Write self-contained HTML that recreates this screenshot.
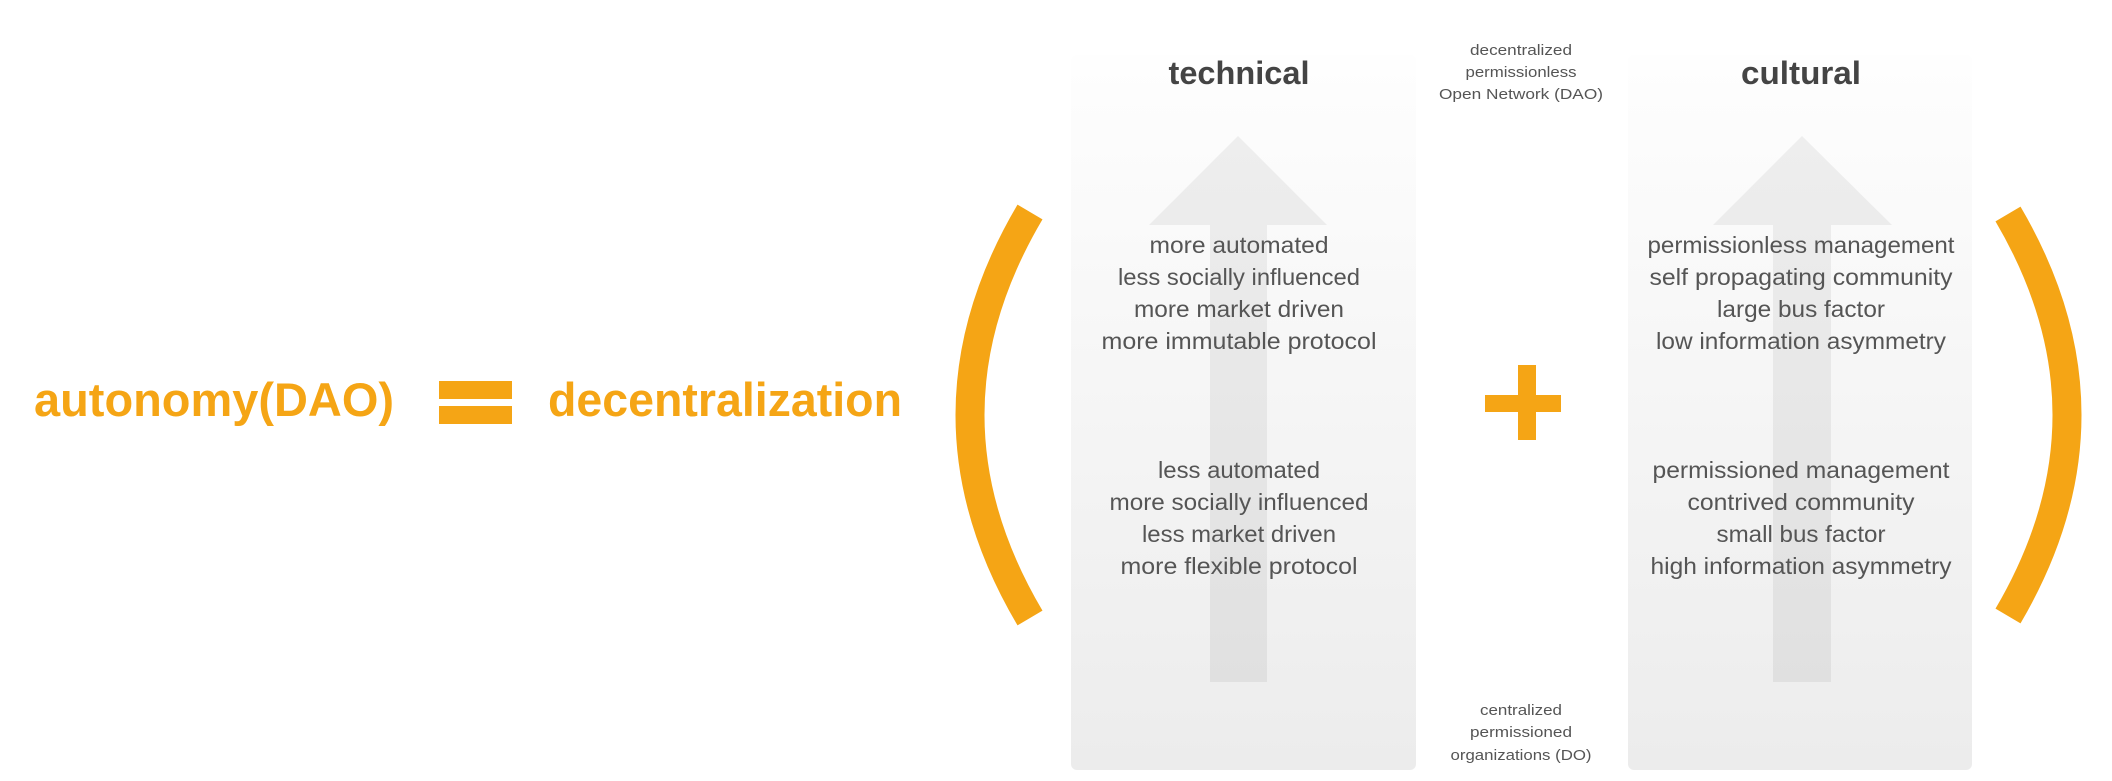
<!DOCTYPE html>
<html><head><meta charset="utf-8"><style>
html,body{margin:0;padding:0;background:#fff;}
svg{display:block;}
text{font-family:"Liberation Sans",sans-serif;}
</style></head><body>
<svg width="2112" height="781" viewBox="0 0 2112 781" xmlns="http://www.w3.org/2000/svg">
<defs>
<linearGradient id="pg" x1="0" y1="0" x2="0" y2="1">
<stop offset="0" stop-color="#fefefe"/><stop offset="1" stop-color="#ececec"/>
</linearGradient>
</defs>
<g fill="#F5A515" font-weight="bold" font-size="47">
<text x="34" y="416" textLength="360" lengthAdjust="spacingAndGlyphs">autonomy(DAO)</text>
<rect x="439" y="381" width="73" height="18"/>
<rect x="439" y="406" width="73" height="18"/>
<text x="548" y="416" textLength="354" lengthAdjust="spacingAndGlyphs">decentralization</text>
<rect x="1518" y="365" width="18" height="75"/>
<rect x="1485" y="395" width="76" height="17"/>
</g>
<path d="M1030 212 Q910 415 1030 618" fill="none" stroke="#F5A515" stroke-width="29"/>
<path d="M2008 214 Q2126 415 2008 616" fill="none" stroke="#F5A515" stroke-width="29"/>
<rect x="1071" y="55" width="345" height="715" rx="6" fill="url(#pg)"/>
<rect x="1628" y="55" width="344" height="715" rx="6" fill="url(#pg)"/>
<g fill="#000" fill-opacity="0.055">
<polygon points="1149,225 1238,136 1327,225 1267,225 1267,682 1210,682 1210,225"/>
<polygon points="1713,225 1802,136 1892,225 1831,225 1831,682 1773,682 1773,225"/>
</g>
<g fill="#444" font-weight="bold" font-size="32" text-anchor="middle">
<text x="1239" y="84" textLength="141" lengthAdjust="spacingAndGlyphs">technical</text>
<text x="1801" y="84" textLength="120" lengthAdjust="spacingAndGlyphs">cultural</text>
</g>
<g fill="#555" font-size="23" text-anchor="middle">
<text x="1239" y="253" textLength="179" lengthAdjust="spacingAndGlyphs">more automated</text>
<text x="1239" y="285" textLength="242" lengthAdjust="spacingAndGlyphs">less socially influenced</text>
<text x="1239" y="317" textLength="210" lengthAdjust="spacingAndGlyphs">more market driven</text>
<text x="1239" y="349" textLength="275" lengthAdjust="spacingAndGlyphs">more immutable protocol</text>
<text x="1239" y="478" textLength="162" lengthAdjust="spacingAndGlyphs">less automated</text>
<text x="1239" y="510" textLength="259" lengthAdjust="spacingAndGlyphs">more socially influenced</text>
<text x="1239" y="542" textLength="194" lengthAdjust="spacingAndGlyphs">less market driven</text>
<text x="1239" y="574" textLength="237" lengthAdjust="spacingAndGlyphs">more flexible protocol</text>
<text x="1801" y="253" textLength="307" lengthAdjust="spacingAndGlyphs">permissionless management</text>
<text x="1801" y="285" textLength="303" lengthAdjust="spacingAndGlyphs">self propagating community</text>
<text x="1801" y="317" textLength="168" lengthAdjust="spacingAndGlyphs">large bus factor</text>
<text x="1801" y="349" textLength="290" lengthAdjust="spacingAndGlyphs">low information asymmetry</text>
<text x="1801" y="478" textLength="297" lengthAdjust="spacingAndGlyphs">permissioned management</text>
<text x="1801" y="510" textLength="227" lengthAdjust="spacingAndGlyphs">contrived community</text>
<text x="1801" y="542" textLength="169" lengthAdjust="spacingAndGlyphs">small bus factor</text>
<text x="1801" y="574" textLength="301" lengthAdjust="spacingAndGlyphs">high information asymmetry</text>
</g>
<g fill="#555" font-size="15" text-anchor="middle">
<text x="1521" y="55" textLength="102" lengthAdjust="spacingAndGlyphs">decentralized</text>
<text x="1521" y="77" textLength="111" lengthAdjust="spacingAndGlyphs">permissionless</text>
<text x="1521" y="99" textLength="164" lengthAdjust="spacingAndGlyphs">Open Network (DAO)</text>
<text x="1521" y="715" textLength="82" lengthAdjust="spacingAndGlyphs">centralized</text>
<text x="1521" y="737" textLength="102" lengthAdjust="spacingAndGlyphs">permissioned</text>
<text x="1521" y="760" textLength="141" lengthAdjust="spacingAndGlyphs">organizations (DO)</text>
</g>
</svg>
</body></html>
